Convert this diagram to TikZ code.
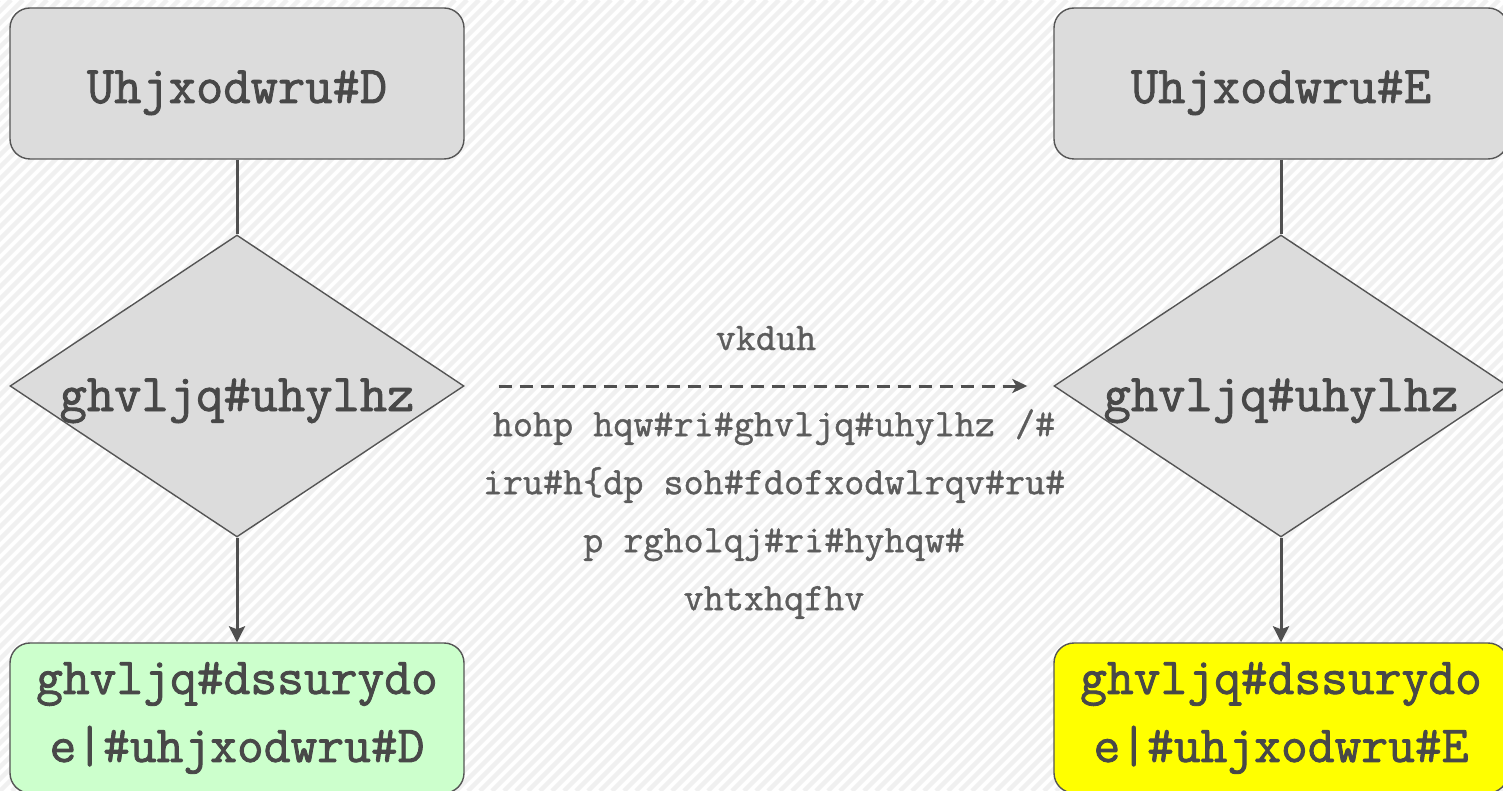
\documentclass[tikz,border=0pt]{standalone}
\usepackage{fontspec}
\newfontfamily\heavytt{Latin Modern Mono}[FakeBold=1.6]
\newfontfamily\midtt{Latin Modern Mono}[FakeBold=1.0]
\usetikzlibrary{shapes.geometric,arrows.meta}
\definecolor{boxgray}{HTML}{DCDCDC}
\definecolor{edgegray}{HTML}{555555}
\definecolor{linegray}{HTML}{505050}
\definecolor{txtgray}{HTML}{484848}
\definecolor{midtxt}{HTML}{5C5C5C}
\definecolor{stripe}{HTML}{F0F0F0}
\definecolor{approvegreen}{HTML}{CCFFCC}
\definecolor{approveyellow}{HTML}{FFFF00}
\tikzset{
  regbox/.style={draw=edgegray, line width=1.4pt, fill=boxgray, rounded corners=20pt,
    minimum width=454pt, minimum height=151pt, inner sep=0pt, text=txtgray,
    font=\heavytt\fontsize{53}{60}\selectfont, text height=45pt, text depth=6pt},
  revdiamond/.style={draw=edgegray, line width=1.4pt, fill=boxgray, shape=diamond,
    aspect=1.503, minimum width=454pt, minimum height=302pt, inner sep=0pt, text=txtgray,
    font=\heavytt\fontsize{53}{60}\selectfont, text height=50pt, text depth=0pt},
  apprbox/.style={draw=edgegray, line width=1.4pt, rounded corners=20pt,
    minimum width=454pt, minimum height=150pt, inner sep=0pt, text=txtgray, align=center,
    font=\heavytt\fontsize{52}{68}\selectfont},
  conn/.style={draw=linegray, line width=3pt},
  connarrow/.style={conn, -{Stealth[length=16pt,width=16pt,inset=3pt]}},
  sharearrow/.style={draw=linegray, line width=3pt, dash pattern=on 13pt off 8pt,
    -{Stealth[length=15pt,width=14pt,inset=4pt]}},
  midtext/.style={text=midtxt, align=center, inner sep=0pt,
    font=\midtt\fontsize{39}{58}\selectfont},
}
\begin{document}
\begin{tikzpicture}[x=1pt,y=-1pt]
\useasboundingbox (0,0) rectangle (1503,791);
\clip (0,0) rectangle (1503,791);
\fill[white] (0,0) rectangle (1503,791);
\foreach \i in {-804,-792,...,1512} \draw[stripe, line width=4.5pt] (\i,791) -- (\i+791,0);

% left column
\node[regbox] (regA) at (237,83.5) {Uhjxodwru\#D};
\node[revdiamond] (revA) at (237,386) {ghvljq\#uhylhz};
\node[apprbox, fill=approvegreen] (appA) at (237,718) {ghvljq\#dssurydo\\e|\#uhjxodwru\#D};

% right column
\node[regbox] (regB) at (1281,83.5) {Uhjxodwru\#E};
\node[revdiamond] (revB) at (1281,386) {ghvljq\#uhylhz};
\node[apprbox, fill=approveyellow] (appB) at (1281,718) {ghvljq\#dssurydo\\e|\#uhjxodwru\#E};

% connectors
\draw[conn] (regA) -- (revA);
\draw[connarrow] (revA) -- (appA);
\draw[conn] (regB) -- (revB);
\draw[connarrow] (revB) -- (appB);

\coordinate (shareStart) at ([xshift=34pt]revA.east);
\coordinate (shareEnd) at ([xshift=-26pt]revB.west);
\draw[sharearrow] (shareStart) -- (shareEnd);

\node[midtext, anchor=base] (shareLbl) at (766,350) {vkduh};
\node[midtext] (shareDesc) at (774,514) {hohp hqw\#ri\#ghvljq\#uhylhz /\#\\iru\#h\{dp soh\#fdofxodwlrqv\#ru\#\\p rgholqj\#ri\#hyhqw\#\\vhtxhqfhv};
\end{tikzpicture}
\end{document}
